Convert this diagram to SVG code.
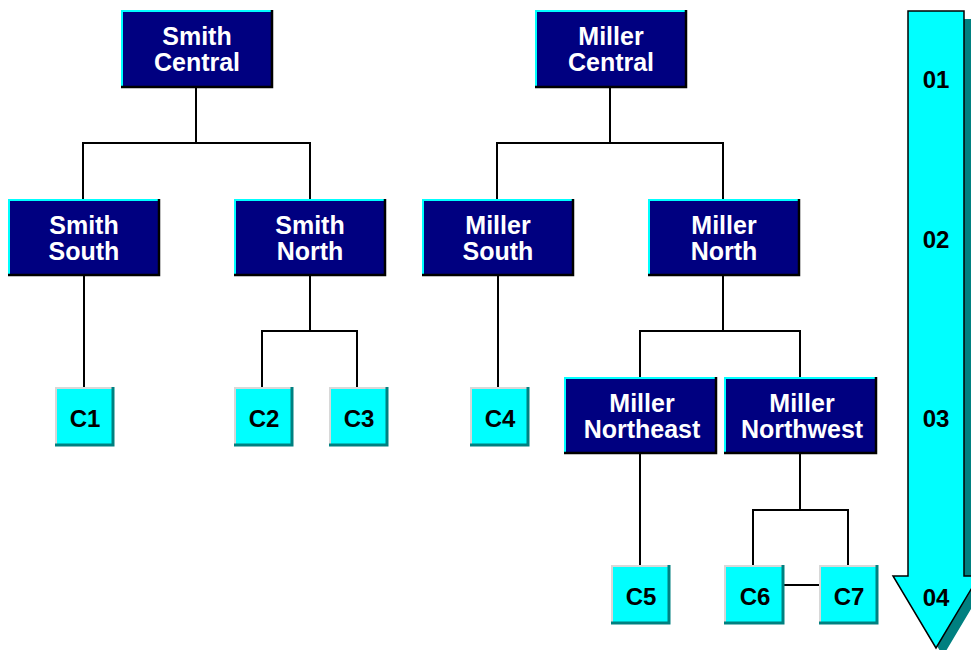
<svg xmlns="http://www.w3.org/2000/svg" width="971" height="650" viewBox="0 0 971 650">
<defs>
<style>
.nb{fill:#000080}
.hl{fill:none;stroke:#00FFFF;stroke-width:2}
.sh{fill:none;stroke:#000;stroke-width:2.5}
.nt{font-family:"Liberation Sans",Arial,sans-serif;font-weight:bold;font-size:25px;fill:#fff;text-anchor:middle}
.cb{fill:#00FFFF}
.chl{fill:none;stroke:#d8d8d8;stroke-width:2}
.csh{fill:none;stroke:#008080;stroke-width:3}
.ct{font-family:"Liberation Sans",Arial,sans-serif;font-weight:bold;font-size:24px;fill:#000;text-anchor:middle}
.ln{fill:none;stroke:#000;stroke-width:2}
</style>
</defs>
<rect width="971" height="650" fill="#fff"/>
<g id="connectors">
<polyline class="ln" points="196,87 196,143"/>
<polyline class="ln" points="83,199 83,143 310,143 310,199"/>
<polyline class="ln" points="84,275 84,387"/>
<polyline class="ln" points="310,275 310,331"/>
<polyline class="ln" points="262,387 262,331 357,331 357,387"/>
<polyline class="ln" points="610,87 610,143"/>
<polyline class="ln" points="497,199 497,143 723,143 723,199"/>
<polyline class="ln" points="498,275 498,387"/>
<polyline class="ln" points="723,275 723,331"/>
<polyline class="ln" points="640,377 640,331 800,331 800,377"/>
<polyline class="ln" points="640,453 640,565"/>
<polyline class="ln" points="800,453 800,510"/>
<polyline class="ln" points="753,565 753,510 848,510 848,565"/>
<polyline class="ln" points="783,585 819,585"/>
</g>
<g id="smith-central">
<rect class="nb" x="121" y="10" width="151" height="77"/>
<polyline class="hl" points="122,87 122,11 272,11"/>
<polyline class="sh" points="272,10 272,87 121,87"/>
<text class="nt" x="197" y="45">Smith</text>
<text class="nt" x="197" y="71">Central</text>
</g>
<g id="miller-central">
<rect class="nb" x="535" y="10" width="151" height="77"/>
<polyline class="hl" points="536,87 536,11 686,11"/>
<polyline class="sh" points="686,10 686,87 535,87"/>
<text class="nt" x="611" y="45">Miller</text>
<text class="nt" x="611" y="71">Central</text>
</g>
<g id="smith-south">
<rect class="nb" x="8" y="199" width="151" height="76"/>
<polyline class="hl" points="9,275 9,200 159,200"/>
<polyline class="sh" points="159,199 159,275 8,275"/>
<text class="nt" x="84" y="234">Smith</text>
<text class="nt" x="84" y="260">South</text>
</g>
<g id="smith-north">
<rect class="nb" x="234" y="199" width="151" height="76"/>
<polyline class="hl" points="235,275 235,200 385,200"/>
<polyline class="sh" points="385,199 385,275 234,275"/>
<text class="nt" x="310" y="234">Smith</text>
<text class="nt" x="310" y="260">North</text>
</g>
<g id="miller-south">
<rect class="nb" x="422" y="199" width="151" height="76"/>
<polyline class="hl" points="423,275 423,200 573,200"/>
<polyline class="sh" points="573,199 573,275 422,275"/>
<text class="nt" x="498" y="234">Miller</text>
<text class="nt" x="498" y="260">South</text>
</g>
<g id="miller-north">
<rect class="nb" x="648" y="199" width="151" height="76"/>
<polyline class="hl" points="649,275 649,200 799,200"/>
<polyline class="sh" points="799,199 799,275 648,275"/>
<text class="nt" x="724" y="234">Miller</text>
<text class="nt" x="724" y="260">North</text>
</g>
<g id="miller-northeast">
<rect class="nb" x="564" y="377" width="152" height="76"/>
<polyline class="hl" points="565,453 565,378 716,378"/>
<polyline class="sh" points="716,377 716,453 564,453"/>
<text class="nt" x="642" y="412">Miller</text>
<text class="nt" x="642" y="438">Northeast</text>
</g>
<g id="miller-northwest">
<rect class="nb" x="724" y="377" width="152" height="76"/>
<polyline class="hl" points="725,453 725,378 876,378"/>
<polyline class="sh" points="876,377 876,453 724,453"/>
<text class="nt" x="802" y="412">Miller</text>
<text class="nt" x="802" y="438">Northwest</text>
</g>
<g id="c1">
<rect class="cb" x="55" y="387" width="58" height="58"/>
<polyline class="chl" points="56,445 56,388 113,388"/>
<polyline class="csh" points="113,387 113,445 55,445"/>
<text class="ct" x="85" y="427">C1</text>
</g>
<g id="c2">
<rect class="cb" x="234" y="387" width="58" height="58"/>
<polyline class="chl" points="235,445 235,388 292,388"/>
<polyline class="csh" points="292,387 292,445 234,445"/>
<text class="ct" x="264" y="427">C2</text>
</g>
<g id="c3">
<rect class="cb" x="329" y="387" width="58" height="58"/>
<polyline class="chl" points="330,445 330,388 387,388"/>
<polyline class="csh" points="387,387 387,445 329,445"/>
<text class="ct" x="359" y="427">C3</text>
</g>
<g id="c4">
<rect class="cb" x="470" y="387" width="58" height="58"/>
<polyline class="chl" points="471,445 471,388 528,388"/>
<polyline class="csh" points="528,387 528,445 470,445"/>
<text class="ct" x="500" y="427">C4</text>
</g>
<g id="c5">
<rect class="cb" x="611" y="565" width="58" height="58"/>
<polyline class="chl" points="612,623 612,566 669,566"/>
<polyline class="csh" points="669,565 669,623 611,623"/>
<text class="ct" x="641" y="605">C5</text>
</g>
<g id="c6">
<rect class="cb" x="724" y="565" width="59" height="58"/>
<polyline class="chl" points="725,623 725,566 783,566"/>
<polyline class="csh" points="783,565 783,623 724,623"/>
<text class="ct" x="755" y="605">C6</text>
</g>
<g id="c7">
<rect class="cb" x="819" y="565" width="58" height="58"/>
<polyline class="chl" points="820,623 820,566 877,566"/>
<polyline class="csh" points="877,565 877,623 819,623"/>
<text class="ct" x="849" y="605">C7</text>
</g>
<g id="level-arrow">
<polygon points="915,19 971,19 971,584 986,584 943,656 900,584 915,584" fill="#008080"/>
<polygon points="908,11 964,11 964,576 979,576 936,648 893,576 908,576" fill="#00FFFF" stroke="#000" stroke-width="1.5" stroke-linejoin="miter"/>
<text class="ct" x="936" y="88">01</text>
<text class="ct" x="936" y="248">02</text>
<text class="ct" x="936" y="427">03</text>
<text class="ct" x="936" y="606">04</text>
</g>
</svg>
